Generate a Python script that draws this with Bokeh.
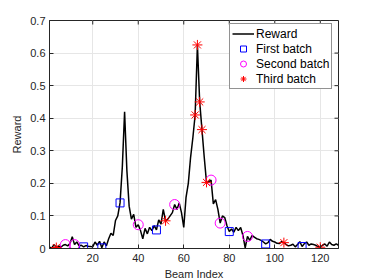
import math
from bokeh.plotting import figure
from bokeh.models import Range1d, FixedTicker, Legend, LegendItem
from bokeh.embed import file_html
from bokeh.resources import INLINE

beam_index = list(range(1, 129))
reward = [
    0.004, 0.002, 0.012, 0.003, 0.008, 0.004, 0.010, 0.012, 0.008, 0.015,
    0.036, 0.012, 0.020, 0.008, 0.010, 0.005, 0.009, 0.007, 0.006, 0.005,
    0.020, 0.010, 0.022, 0.002, 0.020, 0.008, 0.030, 0.047, 0.040, 0.086,
    0.100, 0.140, 0.250, 0.420, 0.240, 0.130, 0.090, 0.105, 0.065, 0.073,
    0.055, 0.030, 0.062, 0.045, 0.065, 0.055, 0.070, 0.057, 0.088, 0.075,
    0.120, 0.085, 0.090, 0.100, 0.110, 0.135, 0.120, 0.140, 0.110, 0.065,
    0.157, 0.200, 0.280, 0.340, 0.410, 0.625, 0.450, 0.365, 0.280, 0.203,
    0.205, 0.210, 0.137, 0.150, 0.120, 0.078, 0.100, 0.095, 0.070, 0.052,
    0.060, 0.050, 0.065, 0.055, 0.065, 0.040, 0.002, 0.037, 0.025, 0.040,
    0.035, 0.030, 0.028, 0.025, 0.020, 0.014, 0.018, 0.028, 0.022, 0.020,
    0.016, 0.015, 0.021, 0.018, 0.012, 0.008, 0.010, 0.013, 0.005, 0.012,
    0.021, 0.006, 0.015, 0.020, 0.010, 0.014, 0.012, 0.010, 0.006, 0.004,
    0.010, 0.014, 0.007, 0.020, 0.012, 0.010, 0.014, 0.010,
]
first_batch = [16, 24, 32, 48, 80, 96, 112]
second_batch = [8, 12, 40, 56, 72, 76, 88]
third_batch = [4, 52, 65, 66, 67, 68, 70, 104, 120]

x_ticks = [20, 40, 60, 80, 100, 120]
y_ticks = [0, 0.1, 0.2, 0.3, 0.4, 0.5, 0.6, 0.7]
y_tick_labels = {0: "0", 0.1: "0.1", 0.2: "0.2", 0.3: "0.3", 0.4: "0.4",
                 0.5: "0.5", 0.6: "0.6", 0.7: "0.7"}
x_min, x_max = 1, 128
y_min, y_max = 0, 0.7

AX = "#262626"
FONT = "Liberation Sans"

p = figure(width=366, height=280, output_backend="svg", toolbar_location=None,
           x_range=Range1d(x_min, x_max), y_range=Range1d(y_min, y_max),
           frame_width=289, frame_height=228,
           min_border_left=49, min_border_top=20, min_border_right=28,
           min_border_bottom=32)
p.background_fill_color = "white"
p.outline_line_color = AX
p.outline_line_width = 1

for ax in (p.xaxis[0], p.yaxis[0]):
    ax.axis_line_color = AX
    ax.major_tick_line_color = AX
    ax.major_tick_in = 4
    ax.major_tick_out = 0
    ax.minor_tick_line_color = None
    ax.major_label_text_font = FONT
    ax.major_label_text_font_size = "11px"
    ax.major_label_text_color = AX
    ax.axis_label_text_font = FONT
    ax.axis_label_text_font_size = "11px"
    ax.axis_label_text_font_style = "normal"
    ax.axis_label_text_color = AX

p.xaxis.ticker = FixedTicker(ticks=x_ticks)
p.yaxis.ticker = FixedTicker(ticks=y_ticks)
p.yaxis.major_label_overrides = y_tick_labels
p.xaxis.axis_label = "Beam Index"
p.yaxis.axis_label = "Reward"
p.xaxis.major_label_standoff = 5
p.yaxis.major_label_standoff = 4
p.xaxis.axis_label_standoff = 3
p.yaxis.axis_label_standoff = 4

p.xgrid.ticker = FixedTicker(ticks=x_ticks)
p.ygrid.ticker = FixedTicker(ticks=y_ticks)
p.grid.grid_line_color = "#e6e6e6"
p.grid.grid_line_width = 1

# box ticks on top and right edges (MATLAB "box on")
p.ray(x=x_ticks, y=[y_max] * len(x_ticks), length=4, length_units="screen",
      angle=-math.pi / 2, line_color=AX, line_width=1)
p.ray(x=[x_max] * len(y_ticks), y=y_ticks, length=4, length_units="screen",
      angle=math.pi, line_color=AX, line_width=1)

r_line = p.line(beam_index, reward, line_color="black", line_width=1.5)

def pick(idx):
    return [reward[i - 1] for i in idx]

r_sq = p.scatter(first_batch, pick(first_batch), marker="square", size=8,
                 fill_color=None, line_color="#0000ff", line_width=1)
r_ci = p.scatter(second_batch, pick(second_batch), marker="circle", size=10,
                 fill_color=None, line_color="#ff00ff", line_width=1)
r_st = p.scatter(third_batch, pick(third_batch), marker="asterisk", size=10,
                 line_color="#ff0000", line_width=1)

legend = Legend(items=[
    LegendItem(label="Reward", renderers=[r_line]),
    LegendItem(label="First batch", renderers=[r_sq]),
    LegendItem(label="Second batch", renderers=[r_ci]),
    LegendItem(label="Third batch", renderers=[r_st]),
], location=(180, 159))
legend.label_text_font = FONT
legend.label_text_font_size = "12px"
legend.label_text_color = "black"
legend.label_height = 15
legend.glyph_height = 15
legend.glyph_width = 22
legend.label_standoff = 2
legend.spacing = 0
legend.padding = 2
legend.margin = 0
legend.border_line_color = AX
legend.border_line_width = 1
legend.background_fill_color = "white"
legend.background_fill_alpha = 1
p.add_layout(legend, "center")

open("out.html", "w").write(file_html(p, INLINE))
